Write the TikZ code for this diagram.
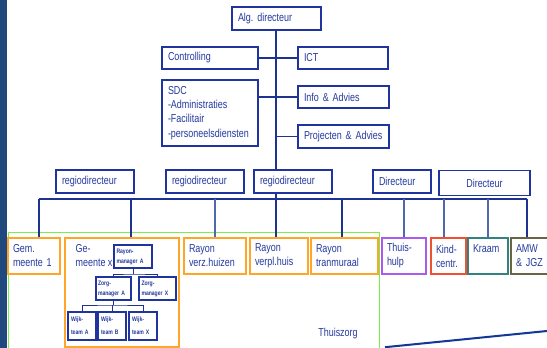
\documentclass[tikz,border=0pt]{standalone}
\usepackage{fontspec}
\setmainfont{Liberation Sans}[FakeStretch=0.78]
\usetikzlibrary{calc}

% narrow word spacing to go with the condensed face
\newcommand\tightspacing{\frenchspacing\spaceskip=0.21em plus 0.08em minus 0.04em\relax}
\newcommand\orgfont[2]{\fontsize{#1}{#2}\selectfont\tightspacing}

\definecolor{sidebar}{RGB}{31,72,125}
\definecolor{ink}{RGB}{38,58,158}
\definecolor{frameblue}{RGB}{32,52,160}
\definecolor{wire}{RGB}{30,50,145}
\definecolor{wirelight}{RGB}{80,105,170}
\definecolor{rayonorange}{RGB}{255,165,40}
\definecolor{hulpviolet}{RGB}{170,90,240}
\definecolor{kindred}{RGB}{240,80,50}
\definecolor{kraamteal}{RGB}{50,130,130}
\definecolor{amwolive}{RGB}{105,100,70}
\definecolor{zorggreen}{RGB}{120,240,70}
\definecolor{slash}{RGB}{20,55,150}

\begin{document}
\begin{tikzpicture}[x=1pt,y=-1pt,
  orgbox/.style={draw=frameblue, line width=1.2pt, fill=white, text=ink,
    font=\orgfont{11.5}{14}, align=left,
    inner xsep=6pt, inner ysep=0pt, minimum height=22pt},
  unitbox/.style={orgbox, inner xsep=5pt, minimum height=36pt, line width=1.2pt},
  minibox/.style={orgbox, font=\orgfont{6.5}{10}\bfseries,
    inner xsep=2pt, minimum height=23pt},
  teambox/.style={minibox, inner xsep=3pt, text width=22pt, minimum height=28pt,
    font=\orgfont{6.5}{13}\bfseries},
  plaintext/.style={text=ink, font=\orgfont{11.5}{14}, inner sep=0pt, align=left},
  conn/.style={draw=wire, line width=1.3pt},
  connlight/.style={draw=wirelight, line width=1.3pt}]

\useasboundingbox (0,0) rectangle (547,348);
\clip (0,0) rectangle (547,348);

% side bar and accent stroke
\fill[sidebar] (0,0) rectangle (7,348);
\draw[slash, line width=2pt] (385,347.2) -- (560,329.7);

% Thuiszorg region
\draw[zorggreen, line width=1pt] (8,232) rectangle (379,360);

% top management
\node[orgbox, text width=77pt, minimum height=23pt] (alg) at (276.5,18.5) {Alg. directeur};
\node[orgbox, text width=84pt] (controlling) at (210,58) {Controlling};
\node[orgbox, text width=78pt] (ict) at (343,58) {ICT};
\node[orgbox, text width=84pt, minimum height=66pt, font=\orgfont{11.5}{14.3}] (sdc) at (210,113)
  {SDC\\-Administraties\\-Facilitair\\-personeelsdiensten};
\node[orgbox, text width=79pt] (info) at (343.5,97) {Info \& Advies};
\node[orgbox, text width=79pt, minimum height=23pt] (proj) at (343.5,136.5) {Projecten \& Advies};

% directors
\node[orgbox, text width=66pt, minimum height=23pt] (regio1) at (95,181.5) {regiodirecteur};
\node[orgbox, text width=66pt, minimum height=23pt] (regio2) at (205,181.5) {regiodirecteur};
\node[orgbox, text width=66pt, minimum height=23pt] (regio3) at (293,181.5) {regiodirecteur};
\node[orgbox, text width=46pt, minimum height=23pt] (dir1) at (402,181.5) {Directeur};
\node[orgbox, text width=79pt, minimum height=25pt, align=center] (dir2) at (484.5,183) {Directeur};

% units
\node[unitbox, draw=rayonorange, text width=42pt] (gem1) at (34,256) {Gem.\\meente 1};
\node[unitbox, draw=rayonorange, minimum width=114pt, minimum height=109pt] (gemx) at (122,292.5) {};
\node[plaintext, anchor=north west] (gemxname) at ($(gemx.north west)+(11,6.6)$) {Ge-\\meente x};
\node[unitbox, draw=rayonorange, text width=52pt] (verz) at (215,256) {Rayon\\verz.huizen};
\node[unitbox, draw=rayonorange, text width=48pt] (verpl) at (279,256) {Rayon\\verpl.huis};
\node[unitbox, draw=rayonorange, text width=57pt] (tran) at (344.5,256) {Rayon\\tranmuraal};
\node[unitbox, draw=hulpviolet, text width=34pt] (thuis) at (404,256) {Thuis-\\hulp};
\node[unitbox, draw=kindred, text width=25pt] (kind) at (448.5,256) {Kind-\\centr.};
\node[unitbox, draw=kraamteal, text width=30pt] (kraam) at (488,256) {Kraam\\\mbox{}};
\node[unitbox, draw=amwolive, text width=31pt] (amw) at (531.5,256) {AMW\\\& JGZ};
\node[plaintext] (thuiszorg) at (338,333.5) {Thuiszorg};

% teams inside the municipality
\node[minibox, text width=33pt, inner xsep=2.5pt] (rm) at (133,256.5) {Rayon-\\manager A};
\node[minibox, text width=31pt] (zA) at (113.5,288.5) {Zorg-\\manager A};
\node[minibox, text width=32pt, inner xsep=2.5pt] (zX) at (157.5,288.5) {Zorg-\\manager X};
\node[teambox] (wA) at (82,326) {Wijk-\\team A};
\node[teambox] (wB) at (112,326) {Wijk-\\team B};
\node[teambox] (wX) at (143,326) {Wijk-\\team X};

% staff connections
\coordinate (trunk) at (276,0);
\draw[conn] (alg.south -| trunk) -- (regio3.north -| trunk);
\draw[conn] (controlling.east) -- (ict.west);
\draw[conn] (info.west) -- (info.west -| sdc.east);
\draw[conn] (proj.west) -- (proj.west -| trunk);

% line organisation bus
\coordinate (busL) at (39,199);
\coordinate (busR) at (527,199);
\draw[conn] (busL) -- (busR);
\draw[conn] (regio3.south -| trunk) -- (verpl.north -| trunk);
\draw[conn] (busL) -- (busL |- gem1.north);
\draw[conn] (131,199) coordinate (dgemx) -- (dgemx |- gemx.north);
\draw[connlight] (verz.north |- busL) -- (verz.north);
\draw[conn] (342,199) coordinate (dtran) -- (dtran |- tran.north);
\draw[connlight] (thuis.north |- busL) -- (thuis.north);
\draw[connlight] (444,199) coordinate (dkind) -- (dkind |- kind.north);
\draw[connlight] (kraam.north |- busL) -- (kraam.north);
\draw[conn] (busR) -- (busR |- amw.north);

% team tree
\coordinate (rmbus) at (133,274);
\draw[conn, line width=1pt] (rm.south) -- (rmbus);
\draw[conn, line width=1pt] (zA.north) |- (rmbus) -| (zX.north);
\coordinate (zbus) at (112,305);
\draw[conn, line width=1pt] (zA.south) -- (zA.south |- zbus);
\draw[conn, line width=1pt] (wA.north) |- (zbus) -| (wX.north);
\draw[conn, line width=1pt] (wB.north) -- (wB.north |- zbus);
\end{tikzpicture}
\end{document}
